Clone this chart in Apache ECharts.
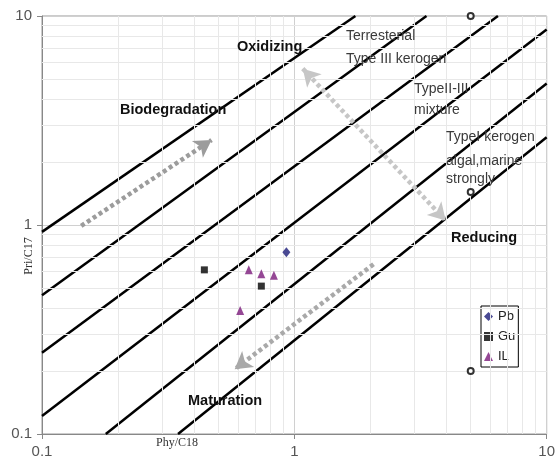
<!DOCTYPE html>
<html>
<head>
<meta charset="utf-8">
<script src="https://cdn.jsdelivr.net/npm/echarts/dist/echarts.min.js"></script>
<style>
  html, body { margin: 0; padding: 0; background: #fff; }
  #chart { width: 558px; height: 466px; }
</style>
</head>
<body>
<div id="chart"></div>
<script>
// ---- data ----
const pbX = [0.93];
const pbY = [0.74];
const guX = [0.44, 0.74];
const guY = [0.61, 0.51];
const ilX = [0.66, 0.74, 0.83, 0.61];
const ilY = [0.61, 0.585, 0.575, 0.39];
const refX = [5, 5, 5];
const refY = [10, 1.44, 0.2];

// boundary lines: start (x,y) and end (x,y)
const boundStartX = [0.1, 0.1, 0.1, 0.1, 0.179, 0.346];
const boundStartY = [0.927, 0.461, 0.245, 0.122, 0.1, 0.1];
const boundEndX = [1.746, 3.34, 6.41, 10, 10, 10];
const boundEndY = [10, 10, 10, 8.61, 4.75, 2.63];

// trend arrows: [x1, y1, x2, y2]
const arrowBiodeg = [0.143, 0.99, 0.47, 2.55];
const arrowOxRed = [1.08, 5.6, 3.98, 1.05];
const arrowMatur = [2.06, 0.649, 0.58, 0.204];

const minorGrid = [0.2, 0.3, 0.4, 0.5, 0.6, 0.7, 0.8, 0.9, 2, 3, 4, 5, 6, 7, 8, 9];

const seriesNames = ['Pb', 'Gu', 'IL'];
const axisMin = 0.1, axisMax = 10;

// ---- build ----
const zip = (xs, ys) => xs.map((x, i) => [x, ys[i]]);
const sans = '"Liberation Sans", Arial, sans-serif';
const serif = '"Liberation Serif", "Times New Roman", serif';

const series = [];

// minor grid lines
series.push({
  type: 'line', data: [], silent: true, z: 1,
  markLine: {
    silent: true, symbol: 'none', animation: false,
    label: { show: false },
    lineStyle: { color: '#e8e8e8', width: 1, type: 'solid' },
    emphasis: { disabled: true },
    data: minorGrid.map(v => ({ xAxis: v })).concat(minorGrid.map(v => ({ yAxis: v })))
  }
});

// boundary lines
boundStartX.forEach((_, i) => {
  series.push({
    type: 'line', silent: true, z: 3, symbol: 'none',
    lineStyle: { color: '#000', width: 2.5 },
    data: [[boundStartX[i], boundStartY[i]], [boundEndX[i], boundEndY[i]]]
  });
});

function arrowSeries(a, color, both) {
  return {
    type: 'line', data: [], silent: true, z: 4,
    markLine: {
      silent: true, animation: false,
      symbol: both ? ['arrow', 'arrow'] : ['none', 'arrow'],
      symbolSize: [15, 17],
      label: { show: false },
      emphasis: { disabled: true },
      lineStyle: { color: color, width: 4.5, type: [4, 3], cap: 'butt', opacity: 1 },
      data: [[{ coord: [a[0], a[1]] }, { coord: [a[2], a[3]] }]]
    }
  };
}
series.push(arrowSeries(arrowBiodeg, '#9c9c9c', false));
series.push(arrowSeries(arrowOxRed, '#c6c6c6', true));
series.push(arrowSeries(arrowMatur, '#a9a9a9', false));

// reference hollow circles
series.push({
  type: 'scatter', name: 'ref', z: 5, silent: true,
  symbol: 'emptyCircle', symbolSize: 6,
  itemStyle: { color: '#000', borderColor: '#000', borderWidth: 1 },
  data: zip(refX, refY)
});

series.push({
  type: 'scatter', name: seriesNames[0], z: 6,
  symbol: 'diamond', symbolSize: [8, 10],
  itemStyle: { color: '#1c1c78' },
  data: zip(pbX, pbY)
});
series.push({
  type: 'scatter', name: seriesNames[1], z: 6,
  symbol: 'rect', symbolSize: 7,
  itemStyle: { color: '#000' },
  data: zip(guX, guY)
});
series.push({
  type: 'scatter', name: seriesNames[2], z: 6,
  symbol: 'triangle', symbolSize: [8, 9],
  itemStyle: { color: '#7a1a7a' },
  data: zip(ilX, ilY)
});

function axis() {
  return {
    type: 'log', logBase: 10, min: axisMin, max: axisMax,
    axisLine: { show: true, lineStyle: { color: '#888', width: 1 } },
    axisTick: { show: true, length: 5, lineStyle: { color: '#888' } },
    axisLabel: { color: '#555', fontSize: 15, margin: 10, fontFamily: sans },
    splitLine: { show: true, lineStyle: { color: '#d0d0d0', width: 1 } },
    minorTick: { show: false },
    minorSplitLine: { show: false }
  };
}

function txt(x, y, s, bold, color) {
  return {
    type: 'text', x: x, y: y, z: 10, silent: true,
    style: {
      text: s,
      font: (bold ? 'bold 14.5px ' : '14px ') + sans,
      fill: color || (bold ? '#111' : '#3a3a3a'),
      align: 'left', verticalAlign: 'middle'
    }
  };
}

const option = {
  animation: false,
  backgroundColor: '#fff',
  grid: { left: 42, right: 8, top: 16, bottom: 32, show: true, borderColor: '#999', borderWidth: 1, backgroundColor: 'transparent' },
  xAxis: axis(),
  yAxis: axis(),
  legend: {
    data: [
      { name: seriesNames[0], icon: 'diamond' },
      { name: seriesNames[1], icon: 'rect' },
      { name: seriesNames[2], icon: 'triangle' }
    ],
    orient: 'vertical',
    left: 481, top: 306,
    itemWidth: 9, itemHeight: 9, itemGap: 7,
    padding: [4, 3, 4, 3],
    borderColor: '#000', borderWidth: 1, backgroundColor: '#fff',
    textStyle: { fontSize: 13, color: '#222', fontFamily: sans, lineHeight: 12 },
    selectedMode: false
  },
  graphic: [
    txt(237, 47, 'Oxidizing', true),
    txt(120, 110, 'Biodegradation', true),
    txt(451, 238, 'Reducing', true),
    txt(188, 401, 'Maturation', true),
    txt(346, 36, 'Terresterial', false),
    txt(346, 59, 'Type III kerogen', false),
    txt(414, 89, 'TypeII-III', false),
    txt(414, 110, 'mixture', false),
    txt(446, 137, 'TypeI kerogen', false),
    txt(446, 161, 'algal,marine', false),
    txt(446, 179, 'strongly', false),
    {
      type: 'text', x: 177, y: 443, z: 10, silent: true,
      style: { text: 'Phy/C18', font: '12px ' + serif, fill: '#333', align: 'center', verticalAlign: 'middle' }
    },
    {
      type: 'text', x: 29, y: 256, rotation: Math.PI / 2, z: 10, silent: true,
      style: { text: 'Pri/C17', font: '12px ' + serif, fill: '#333', align: 'center', verticalAlign: 'middle' }
    }
  ],
  series: series
};

const chart = echarts.init(document.getElementById('chart'), null, { renderer: 'canvas' });
chart.setOption(option);
</script>
</body>
</html>
